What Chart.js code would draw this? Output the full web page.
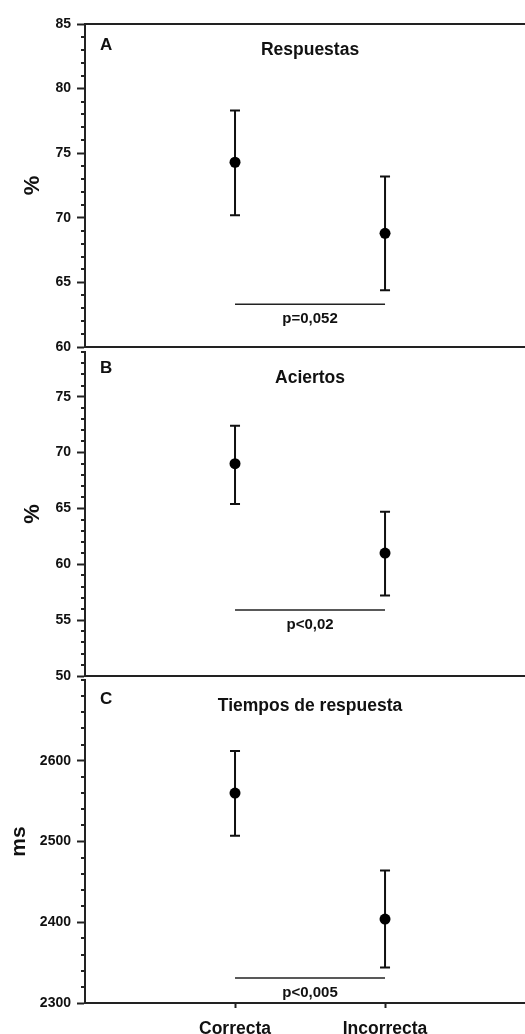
<!DOCTYPE html>
<html>
<head>
<meta charset="utf-8">
<script src="https://cdn.jsdelivr.net/npm/chart.js@4.4.1/dist/chart.umd.min.js"></script>
<style>
  html, body { margin: 0; padding: 0; background: #fff; overflow: hidden; }
  .panel { position: absolute; left: 0; width: 525px; }
</style>
</head>
<body>
<div class="panel" style="top:0;height:360px"><canvas id="cA"></canvas></div>
<div class="panel" style="top:340px;height:345px"><canvas id="cB"></canvas></div>
<div class="panel" style="top:670px;height:364px"><canvas id="cC"></canvas></div>
<script>
// data
const categories = ['Correcta', 'Incorrecta'];

const respuestasMean = [74.3, 68.8];
const respuestasUpper = [78.3, 73.2];
const respuestasLower = [70.2, 64.4];

const aciertosMean = [69.0, 61.0];
const aciertosUpper = [72.4, 64.7];
const aciertosLower = [65.4, 57.2];

const tiemposMean = [2560, 2404];
const tiemposUpper = [2612, 2464];
const tiemposLower = [2507, 2344];

const pLabels = ['p=0,052', 'p<0,02', 'p<0,005'];
const pLineLevels = [63.3, 55.9, 2331];

const respuestasTicks = [60, 65, 70, 75, 80, 85];
const aciertosTicks = [50, 55, 60, 65, 70, 75];
const tiemposTicks = [2300, 2400, 2500, 2600];

const FONT = "'Liberation Sans', Arial, Helvetica, sans-serif";
const INK = '#111';
const FRAME = '#222';

const panels = [
  { id: 'cA', letter: 'A', title: 'Respuestas', yTitle: '%', mean: respuestasMean, upper: respuestasUpper, lower: respuestasLower,
    ticks: respuestasTicks, min: 60, max: 85, minorStep: 1, p: 0, padTop: 24, xHeight: 13,
    letterDy: 26, yTitleSize: 22, yTitlePad: 20, topLine: true, showX: false },
  { id: 'cB', letter: 'B', title: 'Aciertos', yTitle: '%', mean: aciertosMean, upper: aciertosUpper, lower: aciertosLower,
    ticks: aciertosTicks, min: 50, max: 79, minorStep: 1, p: 1, padTop: 12, xHeight: 9,
    letterDy: 21, yTitleSize: 22, yTitlePad: 20, topLine: false, showX: false },
  { id: 'cC', letter: 'C', title: 'Tiempos de respuesta', yTitle: 'ms', mean: tiemposMean, upper: tiemposUpper, lower: tiemposLower,
    ticks: tiemposTicks, min: 2300, max: 2700, minorStep: 20, p: 2, padTop: 10, xHeight: 31,
    letterDy: 23.5, yTitleSize: 21, yTitlePad: 7, topLine: false, showX: true }
];

function makeDecor(p) {
  return {
    id: 'decor' + p.letter,
    beforeDatasetsDraw(chart) {
      const { ctx, scales: { x, y } } = chart;
      ctx.save();
      // error bars
      ctx.strokeStyle = INK;
      ctx.lineWidth = 2;
      p.mean.forEach((m, i) => {
        const px = x.getPixelForValue(i + 1);
        const hi = y.getPixelForValue(p.upper[i]);
        const lo = y.getPixelForValue(p.lower[i]);
        ctx.beginPath();
        ctx.moveTo(px, hi); ctx.lineTo(px, lo);
        ctx.moveTo(px - 5, hi); ctx.lineTo(px + 5, hi);
        ctx.moveTo(px - 5, lo); ctx.lineTo(px + 5, lo);
        ctx.stroke();
      });
      // significance line
      const ly = y.getPixelForValue(pLineLevels[p.p]);
      ctx.strokeStyle = FRAME;
      ctx.lineWidth = 1.5;
      ctx.beginPath();
      ctx.moveTo(x.getPixelForValue(1), ly);
      ctx.lineTo(x.getPixelForValue(2), ly);
      ctx.stroke();
      ctx.restore();
    },
    afterDraw(chart) {
      const { ctx, chartArea, scales: { x, y } } = chart;
      ctx.save();
      // minor ticks
      ctx.strokeStyle = FRAME;
      ctx.lineWidth = 2;
      for (let v = p.min; v <= p.max; v += p.minorStep) {
        if (p.ticks.includes(v)) continue;
        const py = Math.round(y.getPixelForValue(v));
        ctx.beginPath();
        ctx.moveTo(chartArea.left - 4, py);
        ctx.lineTo(chartArea.left, py);
        ctx.stroke();
      }
      if (p.topLine) {
        ctx.beginPath();
        ctx.moveTo(chartArea.left, chartArea.top);
        ctx.lineTo(chartArea.right, chartArea.top);
        ctx.stroke();
      }
      // texts
      ctx.fillStyle = INK;
      ctx.textBaseline = 'alphabetic';
      ctx.font = 'bold 17px ' + FONT;
      ctx.textAlign = 'left';
      ctx.fillText(p.letter, chartArea.left + 15, chartArea.top + p.letterDy);
      ctx.textAlign = 'center';
      ctx.font = 'bold 17.5px ' + FONT;
      ctx.fillText(p.title, x.getPixelForValue(1.5), chartArea.top + 31);
      ctx.font = 'bold 15px ' + FONT;
      ctx.fillText(pLabels[p.p], x.getPixelForValue(1.5), y.getPixelForValue(pLineLevels[p.p]) + 19);
      ctx.restore();
    }
  };
}

panels.forEach(p => {
  new Chart(document.getElementById(p.id), {
    type: 'scatter',
    data: {
      datasets: [{
        data: p.mean.map((m, i) => ({ x: i + 1, y: m })),
        pointRadius: 5.5,
        pointBackgroundColor: '#000',
        pointBorderWidth: 0,
        showLine: false
      }]
    },
    options: {
      responsive: true,
      maintainAspectRatio: false,
      animation: false,
      events: [],
      layout: { autoPadding: false, padding: { top: p.padTop, left: 0, right: 0, bottom: 0 } },
      plugins: { legend: { display: false }, tooltip: { enabled: false } },
      scales: {
        x: {
          type: 'linear',
          min: 0,
          max: 2.933,
          afterBuildTicks: s => { s.ticks = p.showX ? [{ value: 1 }, { value: 2 }] : []; },
          afterFit: s => { s.height = p.xHeight; s.paddingLeft = 0; s.paddingRight = 0; },
          grid: { display: p.showX, drawOnChartArea: false, tickLength: 5, tickWidth: 2, tickColor: FRAME },
          border: { display: true, color: FRAME, width: 2 },
          ticks: {
            display: p.showX,
            padding: 11,
            color: INK,
            font: { family: FONT, size: 17.5, weight: 'bold' },
            callback: v => categories[v - 1] || ''
          }
        },
        y: {
          min: p.min,
          max: p.max,
          afterBuildTicks: s => { s.ticks = p.ticks.map(v => ({ value: v })); },
          afterFit: s => { s.width = 85; s.paddingTop = 0; s.paddingBottom = 0; },
          grid: { drawOnChartArea: false, tickLength: 8, tickWidth: 2, tickColor: FRAME },
          border: { display: true, color: FRAME, width: 2 },
          ticks: {
            padding: 6,
            color: INK,
            font: { family: FONT, size: 14, weight: 'bold' },
            callback: v => String(v)
          },
          title: {
            display: true,
            text: p.yTitle,
            color: INK,
            padding: { top: p.yTitlePad, bottom: 0 },
            font: { family: FONT, size: p.yTitleSize, weight: 'bold' }
          }
        }
      }
    },
    plugins: [makeDecor(p)]
  });
});
</script>
</body>
</html>
